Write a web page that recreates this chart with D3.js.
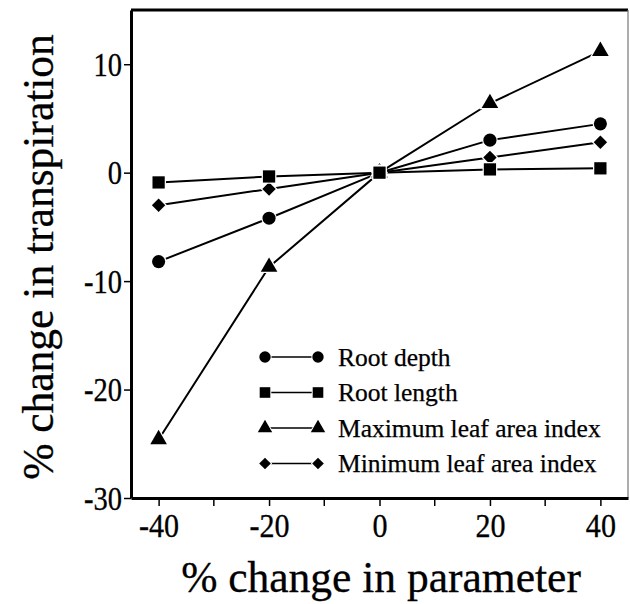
<!DOCTYPE html>
<html><head><meta charset="utf-8">
<script src="https://cdn.jsdelivr.net/npm/d3@7"></script>
<style>body{margin:0;background:#fff}svg{display:block}</style>
</head><body>
<svg id="c" width="630" height="604"></svg>
<script>
const xValues = [-40, -20, 0, 20, 40];
const rootDepth = [-8.2, -4.2, 0, 3.0, 4.5];
const rootLength = [-0.9, -0.35, 0, 0.3, 0.4];
const maxLAI = [-24.6, -8.7, 0, 6.4, 11.2];
const minLAI = [-3.0, -1.5, 0, 1.4, 2.8];
const seriesNames = ["Root depth", "Root length", "Maximum leaf area index", "Minimum leaf area index"];
const xTicks = [-40, -20, 0, 20, 40];
const xMinorTicks = [-30, -10, 10, 30];
const yTicks = [10, 0, -10, -20, -30];

const svg = d3.select("#c");
const m = {l: 131, r: 628, t: 10, b: 498};
const x = d3.scaleLinear().domain([-45, 45]).range([m.l, m.r]);
const y = d3.scaleLinear().domain([-30, 15]).range([m.b, m.t]);
const font = "'Liberation Serif','Times New Roman',serif";
const diamond = {draw(ctx, size) { const r = Math.sqrt(size / 2); ctx.moveTo(0, -r); ctx.lineTo(r, 0); ctx.lineTo(0, r); ctx.lineTo(-r, 0); ctx.closePath(); }};

const series = [
  {name: seriesNames[0], vals: rootDepth, sym: d3.symbolCircle, size: 135},
  {name: seriesNames[1], vals: rootLength, sym: d3.symbolSquare, size: 150},
  {name: seriesNames[2], vals: maxLAI, sym: d3.symbolTriangle, size: 120},
  {name: seriesNames[3], vals: minLAI, sym: diamond, size: 90}
];
const drawOrder = [2, 3, 0, 1];

// frame: top and right
svg.append("line").attr("x1", m.l).attr("x2", m.r).attr("y1", m.t).attr("y2", m.t)
  .attr("stroke", "#000").attr("stroke-width", 3);
svg.append("line").attr("x1", m.r).attr("x2", m.r).attr("y1", m.t).attr("y2", m.b)
  .attr("stroke", "#777").attr("stroke-width", 1.2);

// axes
const fmt = d => String(d);
const gx = svg.append("g").attr("transform", `translate(0,${m.b})`)
  .call(d3.axisBottom(x).tickValues(xTicks).tickFormat(fmt).tickSize(8).tickSizeOuter(0).tickPadding(7));
gx.append("g").selectAll("line").data(xMinorTicks).join("line")
  .attr("x1", d => x(d)).attr("x2", d => x(d)).attr("y1", 0).attr("y2", 8)
  .attr("stroke", "#000").attr("stroke-width", 1.5);
const gy = svg.append("g").attr("transform", `translate(${m.l},0)`)
  .call(d3.axisLeft(y).tickValues(yTicks).tickFormat(fmt).tickSize(7).tickSizeOuter(0).tickPadding(2));
[gx, gy].forEach(g => {
  g.select(".domain").attr("stroke-width", 3);
  g.selectAll(".tick line").attr("stroke-width", 1.5);
  g.selectAll("text").attr("font-family", font).attr("font-size", 31).attr("fill", "#000")
    .attr("stroke", "#000").attr("stroke-width", 0.3);
});
gy.selectAll(".tick text").each(function() {
  const t = d3.select(this);
  const tx = +t.attr("x");
  t.attr("x", 0).attr("transform", `translate(${tx},0) scale(0.92,1.12)`);
});
gx.selectAll(".tick text").each(function() {
  const t = d3.select(this);
  const ty = +t.attr("y");
  t.attr("y", 0).attr("transform", `translate(0,${ty - 1}) scale(0.97,1.12)`);
});

// lines
const line = d3.line().x((d, i) => x(xValues[i])).y(d => y(d));
const g = svg.append("g");
series.forEach(s => {
  g.append("path").attr("d", line(s.vals)).attr("fill", "none")
    .attr("stroke", "#000").attr("stroke-width", 2);
});
drawOrder.forEach(k => {
  const s = series[k];
  g.selectAll(null).data(s.vals).join("path")
    .attr("transform", (d, i) => `translate(${x(xValues[i])},${y(d)})`)
    .attr("d", d3.symbol().type(s.sym).size(s.size)())
    .attr("fill", "#000").attr("stroke", "#fff").attr("stroke-width", 2.5)
    .attr("paint-order", "stroke");
});

// legend
const lg = svg.append("g");
const lx1 = 265, lx2 = 318, ltx = 338, ly0 = 357, ldy = 35.5;
series.forEach((s, i) => {
  const yy = ly0 + i * ldy;
  lg.append("line").attr("x1", lx1).attr("x2", lx2).attr("y1", yy).attr("y2", yy)
    .attr("stroke", "#000").attr("stroke-width", 1.5);
  [lx1, lx2].forEach(px => lg.append("path")
    .attr("transform", `translate(${px},${yy})`)
    .attr("d", d3.symbol().type(s.sym).size(s.size * 0.75)())
    .attr("fill", "#000").attr("stroke", "#fff").attr("stroke-width", 2).attr("paint-order", "stroke"));
  lg.append("text").attr("x", ltx).attr("y", yy).attr("dy", "0.35em")
    .attr("font-family", font).attr("font-size", 25.5)
    .attr("stroke", "#000").attr("stroke-width", 0.25).text(s.name);
});

// axis titles
svg.append("text").attr("x", 381).attr("y", 592).attr("text-anchor", "middle")
  .attr("font-family", font).attr("font-size", 43.5)
  .attr("stroke", "#000").attr("stroke-width", 0.3).text("% change in parameter");
svg.append("text").attr("transform", `translate(53,${(m.t + m.b) / 2 + 3})rotate(-90)`)
  .attr("text-anchor", "middle").attr("font-family", font).attr("font-size", 43.5)
  .attr("stroke", "#000").attr("stroke-width", 0.3)
  .text("% change in transpiration");
</script>
</body></html>
